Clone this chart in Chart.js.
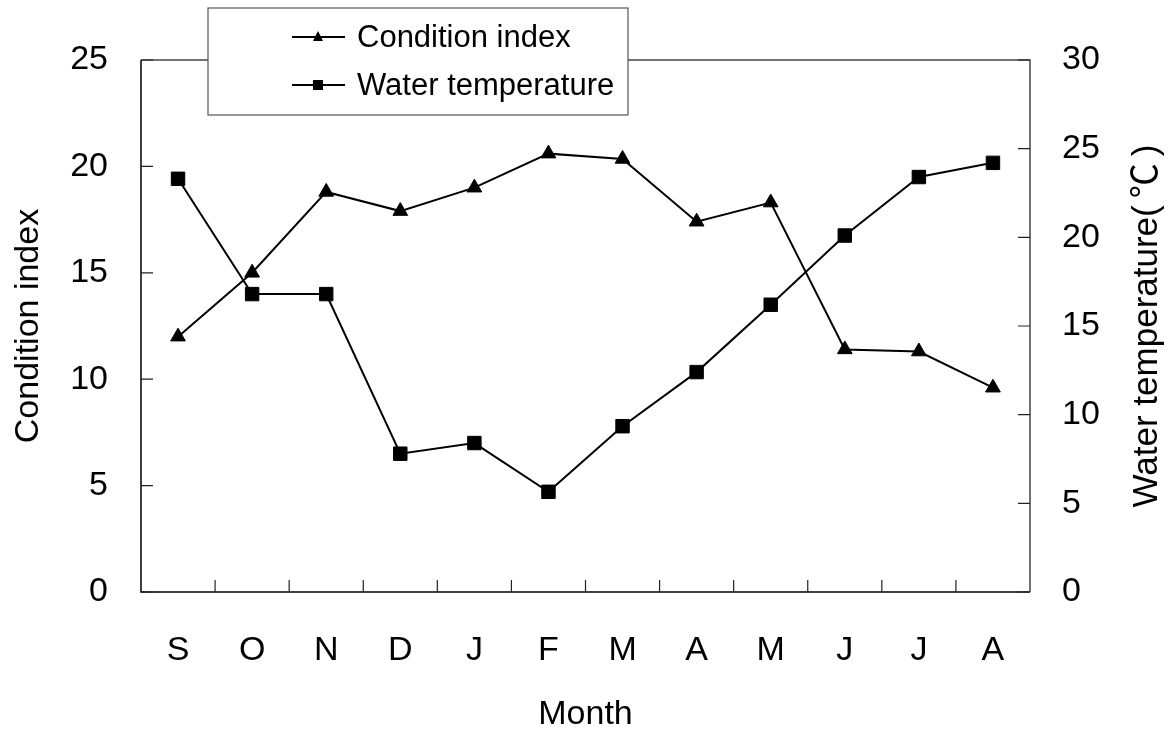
<!DOCTYPE html>
<html>
<head>
<meta charset="utf-8">
<script src="https://cdn.jsdelivr.net/npm/chart.js@4"></script>
<style>body{margin:0;background:#fff}</style>
</head>
<body>
<canvas id="myChart" width="1170" height="729"></canvas>
<script>
const months = ['S', 'O', 'N', 'D', 'J', 'F', 'M', 'A', 'M', 'J', 'J', 'A'];
const conditionIndex = [12.0, 15.0, 18.8, 17.9, 19.0, 20.6, 20.35, 17.4, 18.3, 11.4, 11.3, 9.6];
const waterTemp = [23.3, 16.8, 16.8, 7.8, 8.4, 5.65, 9.35, 12.4, 16.2, 20.1, 23.4, 24.2];

const fam = '"Liberation Sans", Arial, "Noto Sans CJK SC", sans-serif';
const ctx = document.getElementById('myChart');

// box, inward ticks, legend and right title
const frame = {
  id: 'frame',
  beforeDatasetsDraw(chart) {
    const c = chart.ctx, a = chart.chartArea;
    const x = chart.scales.x, y = chart.scales.y, y1 = chart.scales.y1;
    c.save();
    c.lineWidth = 1.5;
    c.strokeStyle = '#000';
    c.beginPath();
    c.moveTo(a.left, a.top); c.lineTo(a.left, a.bottom); c.lineTo(a.right, a.bottom);
    c.stroke();
    c.strokeStyle = '#444';
    c.beginPath();
    c.moveTo(a.left, a.top); c.lineTo(a.right, a.top); c.lineTo(a.right, a.bottom);
    c.stroke();
    c.lineWidth = 1.2;
    c.strokeStyle = '#222';
    c.beginPath();
    y.ticks.forEach(t => {
      const py = y.getPixelForValue(t.value);
      c.moveTo(a.left, py); c.lineTo(a.left + 12, py);
    });
    y1.ticks.forEach(t => {
      const py = y1.getPixelForValue(t.value);
      c.moveTo(a.right - 12, py); c.lineTo(a.right, py);
    });
    const step = x.getPixelForValue(1) - x.getPixelForValue(0);
    for (let i = 1; i < months.length; i++) {
      const px = x.getPixelForValue(i) - step / 2;
      c.moveTo(px, a.bottom); c.lineTo(px, a.bottom - 12);
    }
    c.stroke();
    c.restore();
  },
  afterDraw(chart) {
    const c = chart.ctx, a = chart.chartArea;
    c.save();
    // legend
    c.fillStyle = '#fff';
    c.fillRect(208, 8, 420, 107);
    c.strokeStyle = '#555';
    c.lineWidth = 1.2;
    c.strokeRect(208, 8, 420, 107);
    const rows = [['Condition index', 37, 'tri'], ['Water temperature', 85, 'sq']];
    rows.forEach(r => {
      const ly = r[1];
      c.strokeStyle = '#000';
      c.lineWidth = 2;
      c.beginPath(); c.moveTo(292, ly); c.lineTo(345, ly); c.stroke();
      c.fillStyle = '#000';
      c.beginPath();
      if (r[2] === 'tri') {
        c.moveTo(318, ly - 6); c.lineTo(323, ly + 4); c.lineTo(313, ly + 4); c.closePath();
      } else {
        c.rect(313, ly - 5, 10, 10);
      }
      c.fill();
      c.font = '31px ' + fam;
      c.textBaseline = 'middle';
      c.textAlign = 'left';
      c.fillText(r[0], 357, ly + 1);
    });
    // right axis title, reading upward
    c.translate(1147, (a.top + a.bottom) / 2);
    c.rotate(-Math.PI / 2);
    c.font = '35px ' + fam;
    c.textAlign = 'center';
    c.textBaseline = 'middle';
    c.fillStyle = '#000';
    c.fillText('Water temperature(\u2009\u2103\u2009)', 0, 0);
    c.restore();
  }
};

const myChart = new Chart(ctx, {
  type: 'line',
  data: {
    labels: months,
    datasets: [{
      label: 'Condition index',
      data: conditionIndex,
      yAxisID: 'y',
      borderColor: '#000',
      backgroundColor: '#000',
      borderWidth: 2,
      pointStyle: 'triangle',
      pointRadius: 8.5,
      pointBorderWidth: 1,
      tension: 0
    },
    {
      label: 'Water temperature',
      data: waterTemp,
      yAxisID: 'y1',
      borderColor: '#000',
      backgroundColor: '#000',
      borderWidth: 2,
      pointStyle: 'rect',
      pointRadius: 9.5,
      pointBorderWidth: 1,
      tension: 0
    }]
  },
  options: {
    responsive: false,
    animation: false,
    layout: { padding: { top: 60, left: 0, right: 0, bottom: 0 } },
    plugins: {
      legend: { display: false },
      tooltip: { enabled: false }
    },
    scales: {
      x: {
        offset: true,
        grid: { display: false, drawTicks: false },
        border: { display: false },
        ticks: { color: '#000', font: { family: fam, size: 34 }, padding: 38, maxRotation: 0 },
        title: { display: true, text: 'Month', color: '#000', font: { family: fam, size: 34, lineHeight: 1.0 }, padding: { top: 0, bottom: -3 } },
        afterFit(s) { s.height = 137; }
      },
      y: {
        position: 'left',
        min: 0, max: 25,
        grid: { display: false, drawTicks: false },
        border: { display: false },
        ticks: { stepSize: 5, color: '#000', font: { family: fam, size: 34 }, padding: 33 },
        title: { display: true, text: 'Condition index', color: '#000', font: { family: fam, size: 34, lineHeight: 1.0 }, padding: { top: 12, bottom: 0 } },
        afterFit(s) { s.width = 141; }
      },
      y1: {
        position: 'right',
        min: 0, max: 30,
        grid: { display: false, drawTicks: false },
        border: { display: false },
        ticks: { stepSize: 5, color: '#000', font: { family: fam, size: 34 }, padding: 32 },
        afterFit(s) { s.width = 140; }
      }
    }
  },
  plugins: [frame]
});
</script>
</body>
</html>
